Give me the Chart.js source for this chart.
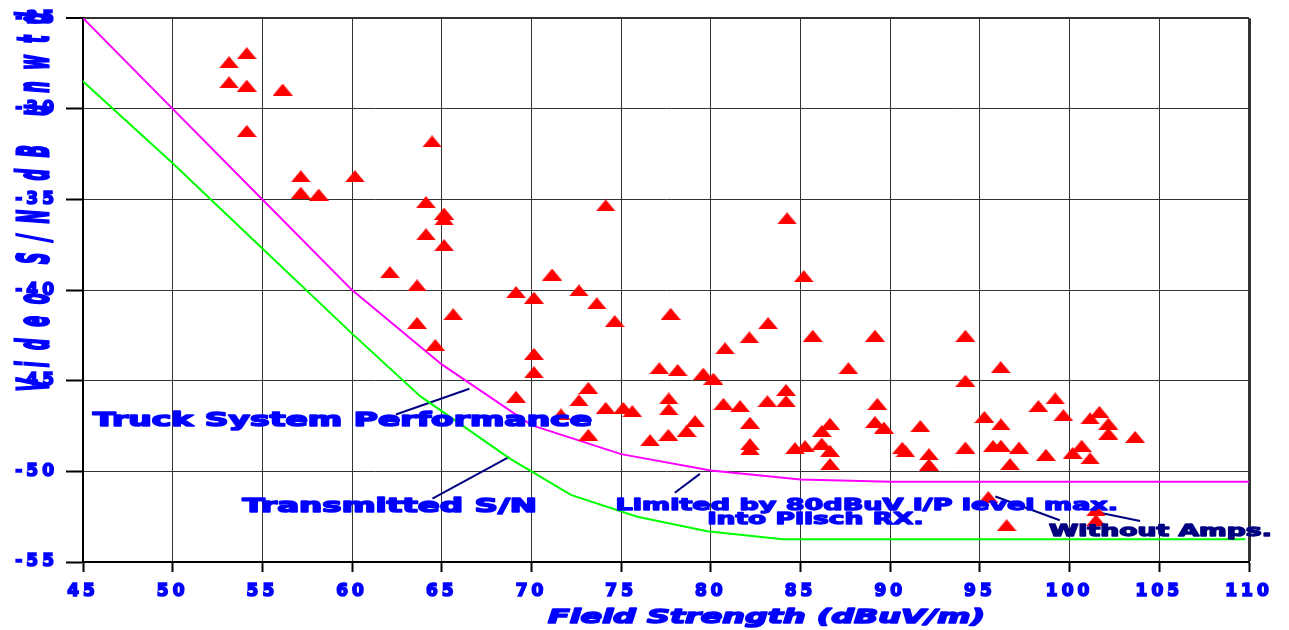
<!DOCTYPE html>
<html><head><meta charset="utf-8">
<script src="https://cdn.jsdelivr.net/npm/chart.js@4.4.0/dist/chart.umd.min.js"></script>
<style>html,body{margin:0;padding:0;background:#fff;}#wrap{position:relative;width:1289px;height:630px;}</style>
</head><body><div id="wrap"><canvas id="c"></canvas></div>
<script>
// ---- data ----
const fieldStrength = [53.14,54.13,53.14,54.13,56.13,54.13,57.14,57.14,58.14,60.16,64.46,64.12,65.13,65.13,64.12,65.13,62.11,63.62,65.64,63.62,64.64,
 74.14,71.15,69.14,70.14,72.65,73.64,74.64,77.76,70.14,70.14,82.15,80.79,77.13,78.15,79.58,80.14,69.14,73.17,72.65,74.14,75.12,75.62,77.65,77.65,80.70,81.63,82.18,82.18,82.18,
 71.65,73.17,79.12,78.65,77.63,76.61,84.19,83.15,84.19,84.69,85.25,84.25,85.18,83.19,85.68,89.15,87.67,94.19,94.19,96.16,86.64,86.18,86.18,86.64,86.64,
 89.28,89.15,89.65,91.68,90.67,90.85,92.16,92.16,94.19,95.25,95.73,96.17,96.17,98.26,99.20,99.65,101.66,101.14,102.16,102.16,103.65,97.18,96.68,98.68,100.67,100.17,101.14,
 95.47,96.49,101.47,101.47];
const videoSN = [-27.43,-26.93,-28.54,-28.72,-28.94,-31.22,-33.72,-34.63,-34.73,-33.72,-31.8,-35.15,-35.78,-36.1,-36.92,-37.52,-39.01,-39.74,-41.33,-41.81,-43.03,
 -35.33,-39.14,-40.11,-40.42,-40.02,-40.73,-41.71,-41.31,-43.52,-44.53,-42.61,-43.21,-44.31,-44.41,-44.61,-44.89,-45.89,-45.40,-46.09,-46.50,-46.50,-46.68,-45.98,-46.58,-46.28,-46.40,-47.32,-48.50,-48.78,
 -46.86,-47.99,-47.23,-47.77,-47.99,-48.28,-45.51,-46.13,-46.13,-48.72,-48.61,-36.04,-39.23,-41.82,-42.52,-42.52,-44.31,-42.52,-45.0,-44.25,-47.37,-47.77,-48.47,-48.87,-49.60,
 -46.28,-47.28,-47.59,-47.50,-48.70,-48.90,-49.05,-49.63,-48.69,-47.0,-48.6,-48.59,-47.41,-46.40,-45.98,-46.90,-46.72,-47.08,-47.37,-47.92,-48.10,-48.69,-49.60,-49.09,-48.59,-48.99,-49.29,
 -51.42,-52.97,-52.15,-52.70];
const truckX = [45,50,55,60,65,70,75,80,85,90,110];
const truckY = [-25,-30,-35,-40,-44.1,-47.45,-49.05,-49.95,-50.45,-50.57,-50.57];
const txX = [44.8,50,55,60,63.8,68.8,72.2,75.9,79.8,84,109.8];
const txY = [-28.3,-33,-37.7,-42.4,-45.85,-49.3,-51.3,-52.5,-53.3,-53.75,-53.75];
const xTicks = [45,50,55,60,65,70,75,80,85,90,95,100,105,110];
const yTicks = [-55,-50,-45,-40,-35,-30,-25];
const xTitle = 'Field Strength (dBuV/m)';
const yTitle = 'Video S/N dB unwtd';
const noteTexts = ['Truck System Performance','Transmitted S/N','Limited by 80dBuV I/P level max.','into Plisch RX.','Without Amps.'];
const noteX0 = [45.56,53.89,74.69,79.81,98.85];
const noteX1 = [73.38,70.31,102.70,91.86,111.27];
const noteY  = [-47.5,-52.26,-52.15,-52.92,-53.58];
const leaderX = [[62.44,66.54],[64.48,68.76],[77.99,79.39],[95.86,99.45],[101.75,103.93]];
const leaderY = [[-46.86,-45.44],[-51.51,-49.20],[-51.18,-50.14],[-51.39,-52.70],[-52.30,-52.74]];

// ---- marker ----
const tri = document.createElement('canvas'); tri.width = 20; tri.height = 12;
(function(){const t = tri.getContext('2d'); t.fillStyle = '#ff0000'; t.beginPath(); t.moveTo(10,0); t.lineTo(20,12); t.lineTo(0,12); t.closePath(); t.fill();})();

const pts = (xs, ys) => xs.map((x,i)=>({x:x, y:ys[i]}));
const datasets = [
  {type:'scatter', data: pts(fieldStrength, videoSN), pointStyle: tri, pointRadius: 6, pointHoverRadius: 6, showLine:false},
  {type:'line', data: pts(truckX, truckY), borderColor:'#ff00ff', borderWidth:2, pointRadius:0, tension:0, fill:false},
  {type:'line', data: pts(txX, txY), borderColor:'#00ff00', borderWidth:2, pointRadius:0, tension:0, fill:false}
];
leaderX.forEach((lx,i)=>datasets.push({type:'line', data: pts(lx, leaderY[i]), borderColor:'#000080', borderWidth:2, pointRadius:0, fill:false}));

function stretchText(ctx, text, x0, x1, yb, font, color, sw){
  ctx.save(); ctx.letterSpacing = '0px'; ctx.font = font; ctx.fillStyle = color; ctx.strokeStyle = color;
  ctx.lineWidth = sw; ctx.lineJoin = 'round';
  ctx.textAlign = 'left'; ctx.textBaseline = 'alphabetic';
  const w = ctx.measureText(text).width;
  ctx.translate(x0, yb); ctx.scale((x1-x0)/w, 1); ctx.strokeText(text, 0, 0); ctx.fillText(text, 0, 0); ctx.restore();
}

const textPlugin = {
  id: 'texts',
  beforeDraw(chart){ chart.ctx.letterSpacing = '4px'; },
  beforeDatasetsDraw(chart){ chart.ctx.letterSpacing = '0px'; },
  afterDatasetsDraw(chart){
    const ctx = chart.ctx, xs = chart.scales.x, ys = chart.scales.y, ca = chart.chartArea;
    noteTexts.forEach((t,i)=>{
      const big = i < 2;
      const font = big ? 'bold 20px "DejaVu Sans"' : 'bold 16px "DejaVu Sans"';
      const color = i === 4 ? '#000080' : '#0000ff';
      stretchText(ctx, t, xs.getPixelForValue(noteX0[i]), xs.getPixelForValue(noteX1[i]), ys.getPixelForValue(noteY[i]), font, color, big ? 1.6 : 1.3);
    });
    // x title
    stretchText(ctx, xTitle, xs.getPixelForValue(70.92), xs.getPixelForValue(95.28), ca.bottom + 61, 'italic bold 20px "DejaVu Sans"', '#0000ff', 1.6);
    // y title
    ctx.save();
    ctx.font = 'italic bold 16px "DejaVu Sans"'; ctx.fillStyle = '#0000ff'; ctx.strokeStyle = '#0000ff'; ctx.lineWidth = 1.2; ctx.letterSpacing = '0px';
    const yt = ys.getPixelForValue(-24.67), yb = ys.getPixelForValue(-45.58), L = yb - yt;
    const w0 = ctx.measureText(yTitle).width;
    ctx.letterSpacing = ((L - w0)/(yTitle.length - 1)) + 'px';
    ctx.translate(ca.left - 35, (yt+yb)/2); ctx.rotate(-Math.PI/2); ctx.scale(1, 2.65);
    ctx.textAlign = 'left'; ctx.textBaseline = 'alphabetic';
    ctx.strokeText(yTitle, -L/2, 0);
    ctx.fillText(yTitle, -L/2, 0);
    ctx.restore();
  }
};

const tickFont = { family: 'DejaVu Sans', size: 17, weight: 'bold' };
new Chart(document.getElementById('c'), {
  data: { datasets },
  options: {
    responsive: true, maintainAspectRatio: false, animation: false,
    layout: { padding: { top: 14, right: 40, left: 0, bottom: 0 } },
    plugins: { legend: { display: false }, tooltip: { enabled: false } },
    events: [],
    scales: {
      x: {
        type: 'linear', position: 'bottom', min: 45, max: 110,
        afterBuildTicks: s => { s.ticks = xTicks.map(v => ({value: v})); },
        afterFit: s => { s.height = 68; },
        ticks: { autoSkip: false, maxRotation: 0, color: '#0000ff', padding: 9, font: tickFont, textStrokeColor: '#0000ff', textStrokeWidth: 1.6 },
        grid: { color: '#333', lineWidth: c => (c.tick && c.tick.value === 110) ? 3 : 1, tickLength: 10, tickColor: '#000', tickWidth: 2 },
        border: { display: true, color: '#000', width: 2 }
      },
      y: {
        type: 'linear', position: 'left', min: -55, max: -25,
        afterBuildTicks: s => { s.ticks = yTicks.map(v => ({value: v})); },
        afterFit: s => { s.width = 83; },
        ticks: { autoSkip: false, color: '#0000ff', padding: 8, font: tickFont, textStrokeColor: '#0000ff', textStrokeWidth: 1.6 },
        grid: { color: '#333', lineWidth: c => (c.tick && c.tick.value === -25) ? 2 : 1, tickLength: 17, tickColor: '#000', tickWidth: 2 },
        border: { display: true, color: '#000', width: 2 }
      }
    }
  },
  plugins: [textPlugin]
});
</script></body></html>
